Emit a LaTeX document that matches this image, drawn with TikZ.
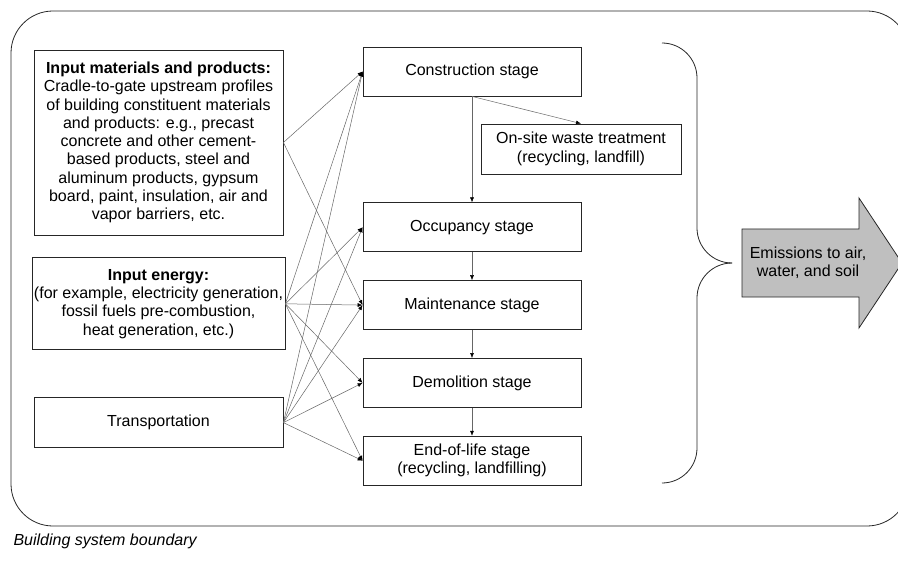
\documentclass[tikz,border=0pt]{standalone}
\usepackage{fontspec}
\setmainfont{Liberation Sans}
\usetikzlibrary{arrows.meta,positioning}

\begin{document}
\begin{tikzpicture}[x=1bp, y=-1bp, font=\fontsize{16bp}{18.3bp}\selectfont]
		\tikzstyle{box}=[rectangle, draw=black!85, line width=0.8bp, align=center, inner sep=2bp]
		\tikzstyle{source}=[box, minimum width=249bp]
		\tikzstyle{stage}=[box, minimum width=218bp, minimum height=49bp, node distance=28bp]
		\tikzstyle{connect}=[-{Latex[length=5bp,width=4bp,color=black]}, draw=black!60, line width=0.5bp]
		\tikzstyle{outline}=[draw=black!85, line width=0.8bp]
		\useasboundingbox (0,0) rectangle (898,563);
		% system boundary
		\draw[outline, rounded corners=42bp] (11,11) rectangle (909,526);
		% inputs
		\node[source, minimum height=185bp] (mat) at (158.5,142.5) {\textbf{Input materials and products:}\\Cradle-to-gate upstream profiles\\of building constituent materials\\and products: e.g., precast\\concrete and other cement-\\based products, steel and\\aluminum products, gypsum\\board, paint, insulation, air and\\vapor barriers, etc.};
		\node[source, minimum height=92bp] (energy) [below=22bp of mat] {\textbf{Input energy:}\\(for example, electricity generation,\\fossil fuels pre-combustion,\\heat generation, etc.)};
		\node[source, minimum height=50bp] (transp) [below=47bp of energy] {Transportation};
		% stages
		\node[stage] (cons) at (472,71.5) {Construction stage};
		\node[stage] (occ) [below=106bp of cons] {Occupancy stage};
		\node[stage] (maint) [below=of occ] {Maintenance stage};
		\node[stage] (demol) [below=of maint] {Demolition stage};
		\node[stage] (eol) [below=of demol] {End-of-life stage\\(recycling, landfilling)};
		\node[box, minimum width=200bp, minimum height=50bp] (waste) at (581,149) {On-site waste treatment\\(recycling, landfill)};
		% brace
		\draw[outline, rounded corners=35bp] (662,43) -- (697,43) -- (697,263) -- (732,263);
		\draw[outline, rounded corners=35bp] (732,263) -- (697,263) -- (697,483) -- (662,483);
		% emissions
		\draw[outline, fill=black!25] (742,229) -- (859,229) -- (859,198) -- (902,263) -- (859,328) -- (859,297) -- (742,297) -- cycle;
		\node[align=center, inner sep=0pt] (emis) at (808,263) {Emissions to air,\\water, and soil};
		\node[anchor=west, font=\fontsize{16bp}{18.3bp}\selectfont\itshape] (caption) at (10,541) {Building system boundary};
		\path
		(mat.east) edge [connect] (cons.west)
		(mat.east) edge [connect] (maint.west)
		(energy.east) edge [connect] (cons.west)
		(energy.east) edge [connect] (occ.west)
		(energy.east) edge [connect] (maint.west)
		(energy.east) edge [connect] (demol.west)
		(energy.east) edge [connect] (eol.west)
		(transp.east) edge [connect] (cons.west)
		(transp.east) edge [connect] (occ.west)
		(transp.east) edge [connect] (maint.west)
		(transp.east) edge [connect] (demol.west)
		(transp.east) edge [connect] (eol.west)
		(cons.south) edge [connect] (occ.north)
		(cons.south) edge [connect] (waste.north)
		(occ) edge [connect] (maint)
		(maint) edge [connect] (demol)
		(demol) edge [connect] (eol)
		;
	\end{tikzpicture}
\end{document}
